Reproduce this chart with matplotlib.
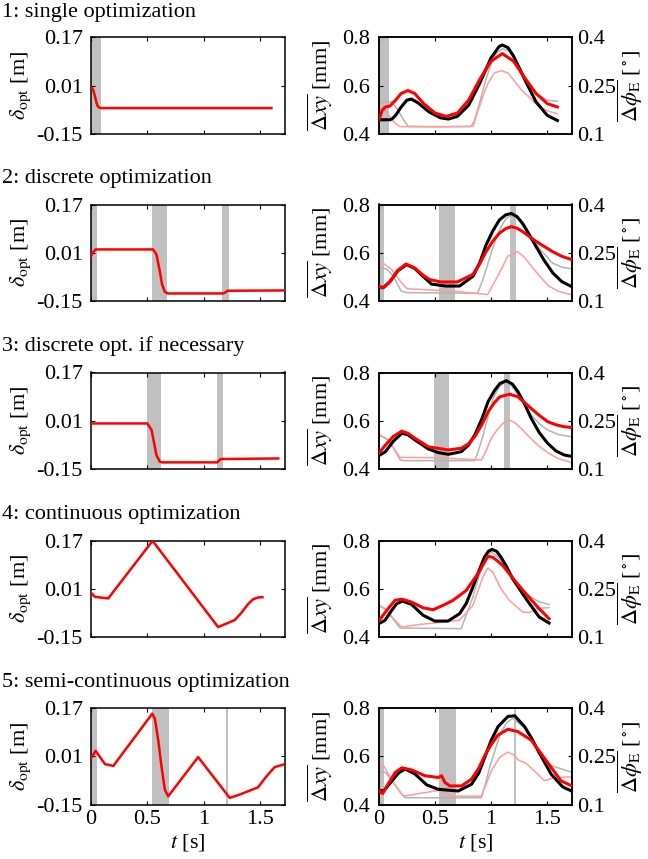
import numpy as np
import matplotlib
matplotlib.use('Agg')
import matplotlib.pyplot as plt

plt.rcParams['font.family'] = ['Liberation Serif', 'DejaVu Serif']
plt.rcParams['mathtext.fontset'] = 'stix'
plt.rcParams['font.size'] = 16

titles = ['1: single optimization', '2: discrete optimization',
          '3: discrete opt. if necessary', '4: continuous optimization',
          '5: semi-continuous optimization']

# shaded optimisation intervals [s]
spans1 = [(0, 0.088)]
spans2 = [(0, 0.05), (0.537, 0.678), (1.165, 1.221)]
spans3 = [(0.493, 0.625), (1.113, 1.167)]
spans4 = []
spans5 = [(0, 0.05), (0.537, 0.69), (1.2, 1.218)]

# delta_opt [m]
d1_t = [0, 0.01, 0.02, 0.035, 0.05, 0.06, 0.075, 0.09, 1.6]
d1_v = [0.004, 0.002, -0.004, -0.025, -0.048, -0.058, -0.063, -0.064, -0.064]
d2_t = [0, 0.02, 0.04, 0.55, 0.58, 0.61, 0.63, 0.655, 0.68, 1.17, 1.19, 1.21, 1.72]
d2_v = [-0.001, 0.012, 0.021, 0.021, 0.005, -0.051, -0.095, -0.12, -0.125, -0.125, -0.122, -0.116, -0.115]
d3_t = [0, 0.5, 0.537, 0.56, 0.58, 0.61, 0.63, 1.12, 1.135, 1.15, 1.66]
d3_v = [0.001, 0.001, -0.021, -0.065, -0.104, -0.126, -0.128, -0.128, -0.122, -0.117, -0.115]
d4_t = [0, 0.035, 0.153, 0.546, 1.127, 1.274, 1.333, 1.392, 1.437, 1.481, 1.52]
d4_v = [-0.003, -0.017, -0.022, 0.169, -0.117, -0.094, -0.07, -0.041, -0.025, -0.019, -0.018]
d5_t = [0, 0.041, 0.124, 0.198, 0.543, 0.566, 0.596, 0.625, 0.655, 0.684, 0.95, 1.23, 1.319, 1.481, 1.555, 1.628, 1.702]
d5_v = [0.003, 0.028, -0.016, -0.022, 0.151, 0.135, 0.064, -0.024, -0.101, -0.123, 0.007, -0.128, -0.117, -0.093, -0.057, -0.026, -0.018]

# mean xy error [mm], reference (black) and optimised (red)
x1_ref_t = [0, 0.1, 0.12, 0.15, 0.2, 0.25, 0.29, 0.35, 0.45, 0.55, 0.62, 0.7, 0.8, 0.9, 1.0, 1.07, 1.1, 1.15, 1.2, 1.3, 1.4, 1.5, 1.59]
x1_ref = [0.459, 0.459, 0.463, 0.477, 0.512, 0.540, 0.545, 0.529, 0.491, 0.467, 0.462, 0.473, 0.519, 0.611, 0.716, 0.762, 0.769, 0.758, 0.723, 0.625, 0.533, 0.477, 0.456]
x1_opt_t = [0, 0.015, 0.03, 0.06, 0.1, 0.15, 0.2, 0.26, 0.32, 0.4, 0.5, 0.6, 0.7, 0.8, 0.9, 1.0, 1.1, 1.2, 1.3, 1.4, 1.5, 1.59]
x1_opt = [0.459, 0.475, 0.498, 0.512, 0.516, 0.540, 0.568, 0.580, 0.568, 0.526, 0.487, 0.473, 0.487, 0.540, 0.627, 0.702, 0.733, 0.702, 0.632, 0.568, 0.526, 0.512]
x2_ref_t = [0, 0.04, 0.1, 0.17, 0.248, 0.32, 0.4, 0.47, 0.6, 0.72, 0.84, 0.9, 0.956, 1.015, 1.074, 1.13, 1.18, 1.23, 1.28, 1.34, 1.4, 1.47, 1.55, 1.63, 1.72]
x2_ref = [0.459, 0.455, 0.48, 0.525, 0.551, 0.535, 0.50, 0.47, 0.462, 0.462, 0.503, 0.56, 0.633, 0.69, 0.736, 0.757, 0.763, 0.75, 0.722, 0.675, 0.626, 0.57, 0.516, 0.48, 0.459]
x2_opt_t = [0, 0.04, 0.1, 0.17, 0.242, 0.32, 0.4, 0.454, 0.55, 0.7, 0.838, 0.9, 0.956, 1.015, 1.074, 1.13, 1.18, 1.23, 1.28, 1.4, 1.546, 1.63, 1.72]
x2_opt = [0.462, 0.455, 0.48, 0.527, 0.553, 0.537, 0.505, 0.489, 0.479, 0.479, 0.510, 0.555, 0.605, 0.648, 0.681, 0.700, 0.708, 0.702, 0.688, 0.647, 0.605, 0.585, 0.571]
x3_ref_t = [0, 0.06, 0.13, 0.206, 0.26, 0.324, 0.442, 0.53, 0.62, 0.737, 0.8, 0.855, 0.92, 0.973, 1.03, 1.077, 1.136, 1.19, 1.24, 1.3, 1.357, 1.43, 1.504, 1.58, 1.652, 1.72]
x3_ref = [0.455, 0.472, 0.515, 0.548, 0.542, 0.52, 0.483, 0.468, 0.461, 0.472, 0.5, 0.541, 0.61, 0.679, 0.725, 0.754, 0.766, 0.752, 0.72, 0.668, 0.61, 0.55, 0.506, 0.474, 0.458, 0.452]
x3_opt_t = [0, 0.06, 0.13, 0.206, 0.26, 0.324, 0.442, 0.62, 0.737, 0.8, 0.855, 0.92, 0.973, 1.03, 1.077, 1.165, 1.24, 1.357, 1.43, 1.504, 1.58, 1.652, 1.72]
x3_opt = [0.465, 0.499, 0.535, 0.557, 0.548, 0.527, 0.492, 0.479, 0.486, 0.505, 0.534, 0.585, 0.637, 0.675, 0.699, 0.710, 0.699, 0.651, 0.622, 0.596, 0.583, 0.575, 0.572]
x4_ref_t = [0, 0.056, 0.115, 0.16, 0.212, 0.292, 0.395, 0.5, 0.617, 0.72, 0.78, 0.838, 0.89, 0.941, 0.975, 1.009, 1.05, 1.088, 1.14, 1.192, 1.31, 1.428, 1.516]
x4_ref = [0.455, 0.469, 0.510, 0.538, 0.549, 0.535, 0.490, 0.466, 0.466, 0.497, 0.54, 0.607, 0.672, 0.731, 0.755, 0.763, 0.755, 0.731, 0.69, 0.641, 0.559, 0.483, 0.458]
x4_opt_t = [0, 0.071, 0.145, 0.204, 0.292, 0.395, 0.484, 0.572, 0.661, 0.779, 0.882, 0.93, 0.97, 1.015, 1.103, 1.221, 1.31, 1.428, 1.516]
x4_opt = [0.466, 0.51, 0.552, 0.557, 0.545, 0.521, 0.513, 0.531, 0.552, 0.593, 0.662, 0.70, 0.734, 0.731, 0.697, 0.628, 0.579, 0.517, 0.476]
x5_ref_t = [0, 0.044, 0.118, 0.18, 0.236, 0.324, 0.428, 0.531, 0.708, 0.826, 0.89, 0.944, 1.0, 1.062, 1.15, 1.21, 1.298, 1.36, 1.416, 1.534, 1.637, 1.72]
x5_ref = [0.459, 0.456, 0.498, 0.532, 0.547, 0.526, 0.481, 0.463, 0.456, 0.484, 0.53, 0.596, 0.665, 0.723, 0.765, 0.768, 0.723, 0.675, 0.625, 0.526, 0.473, 0.455]
x5_opt_t = [0, 0.035, 0.074, 0.147, 0.206, 0.295, 0.413, 0.531, 0.56, 0.59, 0.634, 0.737, 0.826, 0.89, 0.944, 1.0, 1.062, 1.15, 1.239, 1.357, 1.445, 1.534, 1.622, 1.72]
x5_opt = [0.459, 0.445, 0.477, 0.533, 0.552, 0.543, 0.519, 0.512, 0.519, 0.491, 0.477, 0.477, 0.505, 0.55, 0.603, 0.648, 0.688, 0.712, 0.702, 0.667, 0.611, 0.554, 0.498, 0.477]

# mean orientation error [deg], reference (gray) and optimised (pink)
p1_ref_t = [0, 0.12, 0.17, 0.22, 0.26, 0.5, 0.82, 0.85, 0.9, 0.95, 1.0, 1.05, 1.1, 1.15, 1.2, 1.3, 1.4, 1.5, 1.59]
p1_ref = [0.200, 0.200, 0.175, 0.145, 0.124, 0.123, 0.123, 0.140, 0.200, 0.265, 0.318, 0.352, 0.365, 0.360, 0.342, 0.279, 0.226, 0.205, 0.202]
p1_opt_t = [0, 0.045, 0.09, 0.14, 0.19, 0.5, 0.84, 0.885, 0.93, 0.973, 1.03, 1.09, 1.15, 1.27, 1.416, 1.5, 1.59]
p1_opt = [0.205, 0.182, 0.158, 0.135, 0.123, 0.122, 0.124, 0.174, 0.22, 0.258, 0.29, 0.297, 0.29, 0.237, 0.189, 0.172, 0.163]
p2_ref_t = [0, 0.07, 0.13, 0.2, 0.25, 0.88, 0.92, 0.956, 1.015, 1.074, 1.13, 1.18, 1.23, 1.28, 1.4, 1.546, 1.63, 1.72]
p2_ref = [0.203, 0.2, 0.177, 0.131, 0.126, 0.124, 0.16, 0.198, 0.265, 0.321, 0.355, 0.367, 0.36, 0.336, 0.275, 0.218, 0.205, 0.2]
p2_opt_t = [0, 0.047, 0.115, 0.19, 0.254, 0.66, 0.97, 1.0, 1.044, 1.1, 1.147, 1.19, 1.236, 1.3, 1.37, 1.45, 1.516, 1.6, 1.72]
p2_opt = [0.208, 0.216, 0.198, 0.162, 0.138, 0.131, 0.12, 0.14, 0.167, 0.205, 0.239, 0.245, 0.254, 0.235, 0.203, 0.17, 0.146, 0.13, 0.119]
p3_ref_t = [0, 0.09, 0.15, 0.19, 0.23, 0.855, 0.89, 0.93, 0.975, 1.018, 1.07, 1.12, 1.18, 1.24, 1.3, 1.357, 1.43, 1.504, 1.6, 1.72]
p3_ref = [0.206, 0.19, 0.154, 0.128, 0.126, 0.126, 0.16, 0.206, 0.265, 0.319, 0.355, 0.369, 0.36, 0.33, 0.298, 0.268, 0.24, 0.221, 0.207, 0.2]
p3_opt_t = [0, 0.074, 0.133, 0.19, 0.53, 0.915, 0.96, 1.0, 1.05, 1.106, 1.165, 1.21, 1.268, 1.34, 1.416, 1.5, 1.593, 1.72]
p3_opt = [0.208, 0.193, 0.164, 0.136, 0.135, 0.128, 0.16, 0.195, 0.22, 0.242, 0.252, 0.245, 0.226, 0.2, 0.174, 0.152, 0.133, 0.12]
p4_ref_t = [0, 0.056, 0.115, 0.189, 0.735, 0.78, 0.838, 0.88, 0.926, 0.965, 1.0, 1.04, 1.088, 1.192, 1.31, 1.428, 1.516]
p4_ref = [0.2, 0.188, 0.162, 0.128, 0.126, 0.17, 0.224, 0.275, 0.322, 0.35, 0.364, 0.355, 0.338, 0.281, 0.234, 0.209, 0.201]
p4_opt_t = [0, 0.071, 0.145, 0.204, 0.366, 0.72, 0.838, 0.926, 0.97, 1.015, 1.088, 1.162, 1.28, 1.34, 1.428, 1.516]
p4_opt = [0.198, 0.183, 0.152, 0.131, 0.139, 0.152, 0.198, 0.286, 0.314, 0.302, 0.25, 0.214, 0.178, 0.176, 0.19, 0.191]
p5_ref_t = [0, 0.059, 0.118, 0.192, 0.236, 0.914, 0.95, 0.988, 1.04, 1.091, 1.14, 1.195, 1.298, 1.416, 1.534, 1.72]
p5_ref = [0.202, 0.2, 0.174, 0.137, 0.121, 0.121, 0.165, 0.216, 0.275, 0.326, 0.355, 0.368, 0.337, 0.268, 0.221, 0.2]
p5_opt_t = [0, 0.044, 0.103, 0.162, 0.221, 0.531, 0.575, 0.634, 0.914, 1.003, 1.077, 1.15, 1.21, 1.239, 1.313, 1.475, 1.563, 1.72]
p5_opt = [0.205, 0.221, 0.184, 0.153, 0.126, 0.144, 0.137, 0.126, 0.126, 0.205, 0.247, 0.263, 0.253, 0.239, 0.228, 0.174, 0.184, 0.186]

spans = [spans1, spans2, spans3, spans4, spans5]
deltas = [(d1_t, d1_v), (d2_t, d2_v), (d3_t, d3_v), (d4_t, d4_v), (d5_t, d5_v)]
xy_ref = [(x1_ref_t, x1_ref), (x2_ref_t, x2_ref), (x3_ref_t, x3_ref), (x4_ref_t, x4_ref), (x5_ref_t, x5_ref)]
xy_opt = [(x1_opt_t, x1_opt), (x2_opt_t, x2_opt), (x3_opt_t, x3_opt), (x4_opt_t, x4_opt), (x5_opt_t, x5_opt)]
phi_ref = [(p1_ref_t, p1_ref), (p2_ref_t, p2_ref), (p3_ref_t, p3_ref), (p4_ref_t, p4_ref), (p5_ref_t, p5_ref)]
phi_opt = [(p1_opt_t, p1_opt), (p2_opt_t, p2_opt), (p3_opt_t, p3_opt), (p4_opt_t, p4_opt), (p5_opt_t, p5_opt)]

W, H = 648, 859
fig = plt.figure(figsize=(W / 100, H / 100), dpi=100)

row_tops = [37.5, 204.5, 372.5, 540.5, 708]
ax_h = 96.5
shade = '#c0c0c0'
gray = '#b4b4b4'
pink = '#ff9c9c'
xt = [0, 0.5, 1, 1.5]


def style(ax, last):
    ax.set_xlim(0, 1.72)
    ax.set_xticks(xt)
    ax.tick_params(direction='in', length=3, width=0.8, top=True, pad=4)
    for s in ax.spines.values():
        s.set_linewidth(1.1)
    if last:
        ax.set_xticklabels(['0', '0.5', '1', '1.5'])
        ax.set_xlabel('$t$ [s]', labelpad=2)
    else:
        ax.set_xticklabels([])


for i in range(5):
    top = row_tops[i]
    bottom = 1 - (top + ax_h) / H
    last = i == 4
    fig.text(2 / W, 1 - (top - 21) / H, titles[i], ha='left', va='baseline')

    # left: delta_opt
    axL = fig.add_axes([91 / W, bottom, 194 / W, ax_h / H])
    for a, b in spans[i]:
        axL.axvspan(a, b, color=shade, lw=0, zorder=0)
    axL.plot(deltas[i][0], deltas[i][1], color='red', lw=1.8, zorder=3)
    style(axL, last)
    axL.tick_params(right=True)
    axL.set_ylim(-0.15, 0.17)
    axL.set_yticks([-0.15, 0.01, 0.17])
    axL.set_yticklabels(['-0.15', '0.01', '0.17'])
    axL.tick_params(axis='y', pad=6)
    axL.set_ylabel(r'$\delta_{\mathrm{opt}}$ [m]')
    axL.yaxis.set_label_coords(-0.30, 0.5)

    # right: xy error with orientation error on twin axis
    axR = fig.add_axes([378.7 / W, bottom, 193.3 / W, ax_h / H])
    axT = axR.twinx()
    axR.set_zorder(axT.get_zorder() + 1)
    axR.patch.set_visible(False)
    for a, b in spans[i]:
        axT.axvspan(a, b, color=shade, lw=0, zorder=0)
    axT.plot(phi_ref[i][0], phi_ref[i][1], color=gray, lw=1.1, zorder=2)
    axT.plot(phi_opt[i][0], phi_opt[i][1], color=pink, lw=1.1, zorder=2)
    axR.plot(xy_ref[i][0], xy_ref[i][1], color='black', lw=2.2, zorder=3)
    axR.plot(xy_opt[i][0], xy_opt[i][1], color='red', lw=2.2, zorder=4)
    style(axR, last)
    style(axT, last)
    axR.tick_params(right=False)
    axT.tick_params(left=False, right=True)
    axR.set_ylim(0.4, 0.8)
    axR.set_yticks([0.4, 0.6, 0.8])
    axR.set_yticklabels(['0.4', '0.6', '0.8'])
    axR.tick_params(axis='y', pad=6)
    axT.set_ylim(0.1, 0.4)
    axT.set_yticks([0.1, 0.25, 0.4])
    axT.set_yticklabels(['0.1', '0.25', '0.4'])
    axT.tick_params(axis='y', pad=4)
    if last:
        axT.set_xlabel('')
    axR.set_ylabel(r'$\overline{\Delta xy}$ [mm]')
    axR.yaxis.set_label_coords(-0.225, 0.5)
    axT.set_ylabel(r'$\overline{\Delta\phi_{\mathrm{E}}}$ [$^\circ$]')
    axT.yaxis.set_label_coords(1.225, 0.5)

fig.savefig('out.png', dpi=100)
